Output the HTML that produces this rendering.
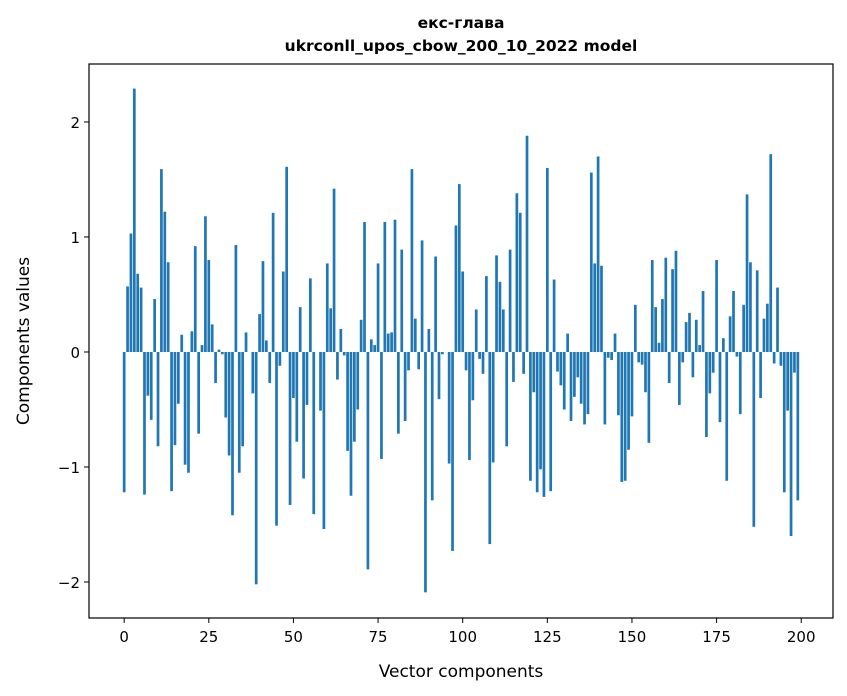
<!DOCTYPE html>
<html><head><meta charset="utf-8"><style>
body{margin:0;background:#fff;}
svg{display:block;font-family:"DejaVu Sans","Liberation Sans",sans-serif;}
</style></head><body>
<svg id="chart" width="847" height="696">
<text x="461" y="28" text-anchor="middle" font-size="15.5" font-weight="bold">екс-глава</text>
<text x="461" y="51" text-anchor="middle" font-size="15.5" font-weight="bold">ukrconll_upos_cbow_200_10_2022 model</text>
<g id="bars"></g>
<g id="axes"></g>
<rect x="89" y="64" width="744" height="554" fill="none" stroke="#000" stroke-width="1.2"/>
<text x="461" y="677" text-anchor="middle" font-size="17">Vector components</text>
<text transform="translate(29,341) rotate(-90)" text-anchor="middle" font-size="17">Components values</text>
</svg>
<script>
const values = [-1.22,0.57,1.03,2.29,0.68,0.56,-1.24,-0.38,-0.59,0.46,-0.82,1.59,1.22,0.78,-1.21,-0.81,-0.45,0.15,-0.98,-1.05,0.18,0.92,-0.71,0.06,1.18,0.8,0.24,-0.27,0.02,-0.02,-0.57,-0.9,-1.42,0.93,-1.05,-0.82,0.17,0,-0.36,-2.02,0.33,0.79,0.1,-0.27,1.21,-1.51,-0.12,0.7,1.61,-1.33,-0.4,-0.78,0.39,-1.1,-0.46,0.64,-1.41,0,-0.51,-1.54,0.77,0.38,1.42,-0.24,0.2,-0.03,-0.86,-1.25,-0.78,-0.5,0.28,1.13,-1.89,0.11,0.06,0.77,-0.93,1.13,0.16,0.17,1.15,-0.71,0.89,-0.6,-0.16,1.59,0.29,-0.15,0.97,-2.09,0.2,-1.29,0.83,-0.41,-0.02,0,-0.97,-1.73,1.1,1.46,0.7,-0.16,-0.94,-0.42,0.37,-0.06,-0.19,0.66,-1.67,-0.96,0.84,0.61,0.37,-0.82,0.89,-0.26,1.38,1.21,-0.19,1.88,-1.12,-0.35,-1.22,-1.02,-1.26,1.6,-1.21,0.63,-0.17,-0.29,-0.5,0.16,-0.6,-0.39,-0.22,-0.45,-0.63,-0.54,1.56,0.77,1.7,0.75,-0.63,-0.05,-0.07,0.16,-0.55,-1.13,-1.12,-0.85,-0.56,0.41,-0.09,-0.11,-0.35,-0.79,0.8,0.39,0.08,0.46,0.82,-0.27,0.72,0.88,-0.46,-0.09,0.26,0.34,-0.22,0.28,0.06,0.53,-0.74,-0.36,-0.18,0.8,-0.61,0.12,-1.12,0.31,0.53,-0.04,-0.54,0.41,1.37,0.78,-1.52,0.71,-0.4,0.29,0.42,1.72,-0.1,0.56,-0.12,-1.22,-0.51,-1.6,-0.18,-1.29];
const xTicks = [0,25,50,75,100,125,150,175,200];
const yTicks = [-2,-1,0,1,2];
const yTickLabels = ["\u22122","\u22121","0","1","2"];

const X0=89,X1=833,Y0=64,Y1=618;
const xmin=-10.39,xmax=209.39,ymin=-2.313,ymax=2.504;
function xs(v){return X0+(v-xmin)/(xmax-xmin)*(X1-X0);}
function ys(v){return Y1-(v-ymin)/(ymax-ymin)*(Y1-Y0);}
const NS="http://www.w3.org/2000/svg";
const bars=document.getElementById('bars');
values.forEach((v,i)=>{
  const r=document.createElementNS(NS,'rect');
  const xa=xs(i-0.4), xb=xs(i+0.4);
  const ya=ys(Math.max(v,0)), yb=ys(Math.min(v,0));
  r.setAttribute('x',xa);r.setAttribute('width',xb-xa);
  r.setAttribute('y',ya);r.setAttribute('height',Math.max(yb-ya,0));
  r.setAttribute('fill','#1f77b4');
  
  
  bars.appendChild(r);
});
const axes=document.getElementById('axes');
xTicks.forEach(t=>{
  const x=xs(t);
  const l=document.createElementNS(NS,'line');
  l.setAttribute('x1',x);l.setAttribute('x2',x);l.setAttribute('y1',Y1);l.setAttribute('y2',Y1+5);
  l.setAttribute('stroke','#000');
  
  
  axes.appendChild(l);
  const tx=document.createElementNS(NS,'text');
  tx.setAttribute('x',x);tx.setAttribute('y',Y1+24);tx.setAttribute('text-anchor','middle');tx.setAttribute('font-size','15');
  tx.textContent=t;
  
  
  axes.appendChild(tx);
});
yTicks.forEach((t,i)=>{
  const y=ys(t);
  const l=document.createElementNS(NS,'line');
  l.setAttribute('x1',X0-5);l.setAttribute('x2',X0);l.setAttribute('y1',y);l.setAttribute('y2',y);
  l.setAttribute('stroke','#000');
  
  
  axes.appendChild(l);
  const tx=document.createElementNS(NS,'text');
  tx.setAttribute('x',X0-9);tx.setAttribute('y',y+6);tx.setAttribute('text-anchor','end');tx.setAttribute('font-size','15');
  tx.textContent=yTickLabels[i];
  
  
  axes.appendChild(tx);
});
</script>
</body></html>
